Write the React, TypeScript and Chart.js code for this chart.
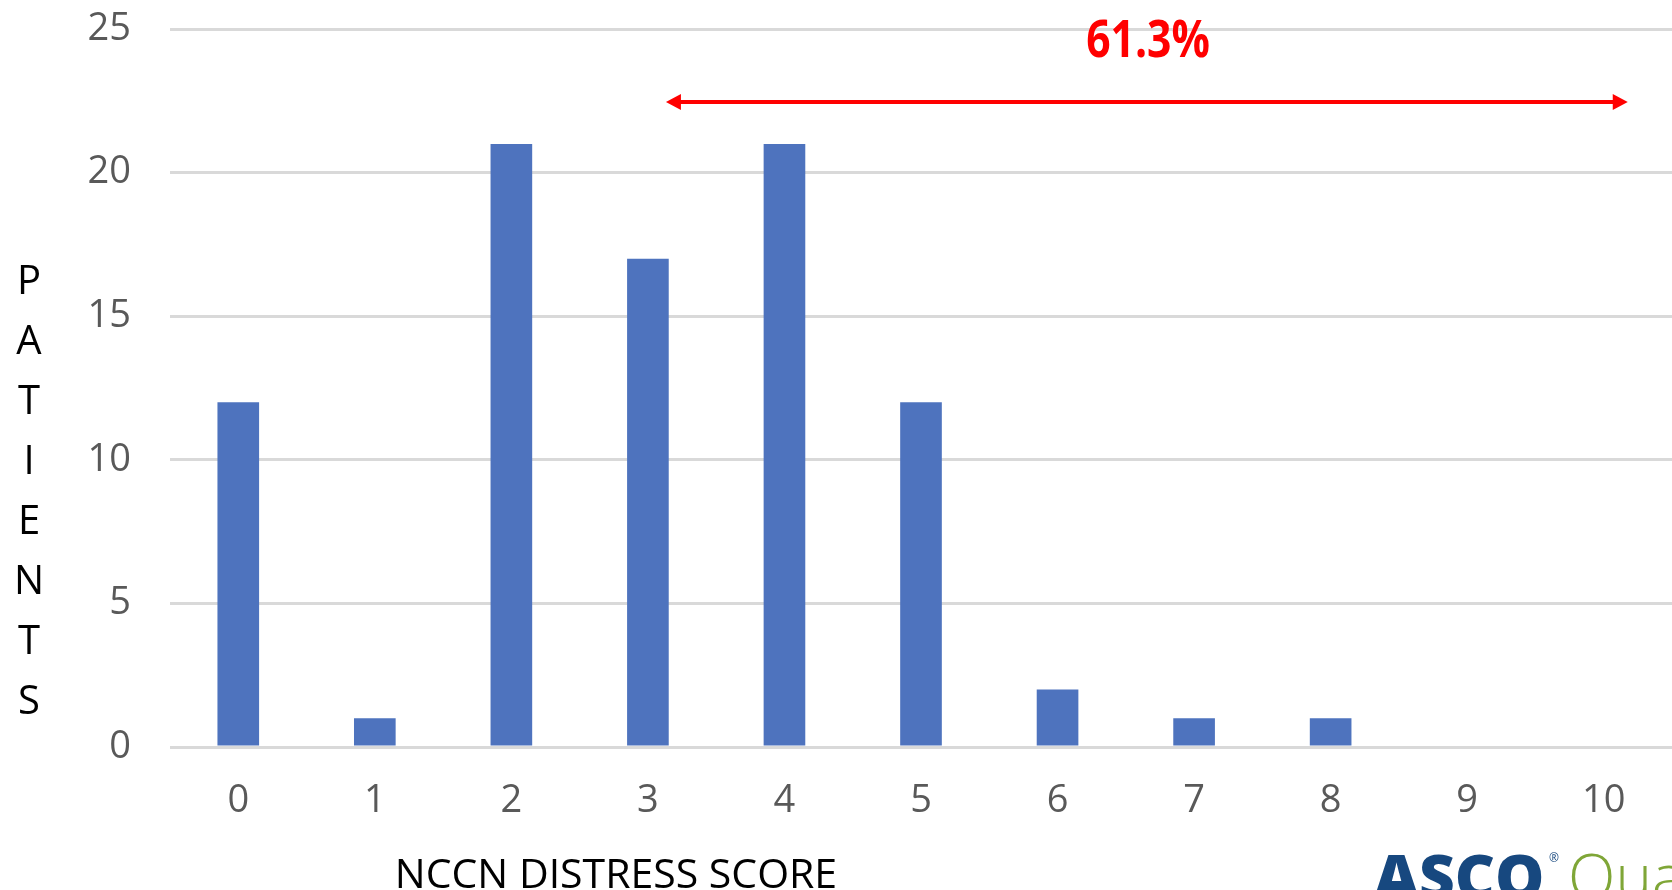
import React, { useEffect, useRef } from "react";
import { Chart, registerables } from "chart.js";

Chart.register(...registerables);

const scores = ["0", "1", "2", "3", "4", "5", "6", "7", "8", "9", "10"];
const patients = [12, 1, 21, 17, 21, 12, 2, 1, 1, 0, 0];
const yTitleLetters = ["P", "A", "T", "I", "E", "N", "T", "S"];
const xTitle = "NCCN DISTRESS SCORE";
const percentLabel = "61.3%";
const arrowFrom = 3;
const arrowTo = 10;

const annotationPlugin = {
  id: "annotations",
  afterDraw(chart: any) {
    const ctx = chart.ctx as CanvasRenderingContext2D;
    const xs = chart.scales.x;
    ctx.save();
    // y-axis title: stacked letters
    ctx.fillStyle = "#000000";
    ctx.font = "40px 'Open Sans'";
    ctx.textAlign = "center";
    ctx.textBaseline = "middle";
    yTitleLetters.forEach((ch, i) => {
      ctx.fillText(ch, 29, 283 + i * 60);
    });
    // x-axis title
    ctx.textBaseline = "alphabetic";
    ctx.font = "41px 'Open Sans'";
    ctx.fillText(xTitle, 616, 888);

    // arrow
    const x1 = xs.getPixelForValue(arrowFrom) + 18;
    const x2 = xs.getPixelForValue(arrowTo) + 24;
    const ay = 102;
    ctx.strokeStyle = "#ff0000";
    ctx.fillStyle = "#ff0000";
    ctx.lineWidth = 4;
    ctx.beginPath();
    ctx.moveTo(x1 + 10, ay);
    ctx.lineTo(x2 - 10, ay);
    ctx.stroke();
    ctx.beginPath();
    ctx.moveTo(x1, ay);
    ctx.lineTo(x1 + 15, ay - 8);
    ctx.lineTo(x1 + 15, ay + 8);
    ctx.closePath();
    ctx.fill();
    ctx.beginPath();
    ctx.moveTo(x2, ay);
    ctx.lineTo(x2 - 15, ay - 8);
    ctx.lineTo(x2 - 15, ay + 8);
    ctx.closePath();
    ctx.fill();

    // percentage (condensed bold)
    ctx.save();
    ctx.translate(1148, 42);
    ctx.scale(0.82, 1);
    ctx.font = "bold 52px 'Open Sans'";
    ctx.textAlign = "center";
    ctx.textBaseline = "middle";
    ctx.fillText(percentLabel, 0, 0);
    ctx.restore();

    // logo text
    ctx.textAlign = "left";
    ctx.textBaseline = "alphabetic";
    ctx.fillStyle = "#17487f";
    ctx.font = "800 62px 'Open Sans'";
    ctx.fillText("ASCO", 1374, 899);
    ctx.font = "12px 'Open Sans'";
    ctx.fillText("®", 1549, 862);
    ctx.fillStyle = "#7fa637";
    ctx.font = "300 62px 'Open Sans'";
    ctx.fillText("Qua", 1568, 899);
    ctx.restore();
  },
};

export default function App() {
  const ref = useRef<HTMLCanvasElement | null>(null);
  useEffect(() => {
    if (!ref.current) return;
    const chart = new Chart(ref.current, {
      type: "bar",
      data: {
        labels: scores,
        datasets: [
          {
            data: patients,
            backgroundColor: "#4e73be",
            borderWidth: 0,
            barPercentage: 0.305,
            categoryPercentage: 1,
          },
        ],
      },
      options: {
        responsive: false,
        animation: false,
        layout: { padding: { top: 29, right: 0, left: 0, bottom: 0 } },
        plugins: {
          legend: { display: false },
          tooltip: { enabled: false },
        },
        scales: {
          x: {
            grid: { display: false, drawTicks: false },
            border: { display: false },
            ticks: {
              color: "#595959",
              font: { family: "'Open Sans'", size: 38 },
              padding: 31,
              maxRotation: 0,
              autoSkip: false,
            },
            afterFit(scale: any) {
              scale.height = 143;
              scale.paddingLeft = 0;
              scale.paddingRight = 0;
            },
          },
          y: {
            min: 0,
            max: 25,
            grid: { color: "#d9d9d9", lineWidth: 3, drawTicks: false },
            border: { display: false },
            ticks: {
              stepSize: 5,
              color: "#595959",
              font: { family: "'Open Sans'", size: 38 },
              padding: 39,
            },
            afterFit(scale: any) {
              scale.width = 170;
              scale.paddingTop = 0;
              scale.paddingBottom = 0;
            },
          },
        },
      },
      plugins: [annotationPlugin],
    });
    return () => chart.destroy();
  }, []);
  return (
    <div style={{ position: "absolute", left: 0, top: 0, width: 1672, height: 890, background: "#ffffff" }}>
      <canvas ref={ref} width={1672} height={890} style={{ display: "block" }} />
    </div>
  );
}
